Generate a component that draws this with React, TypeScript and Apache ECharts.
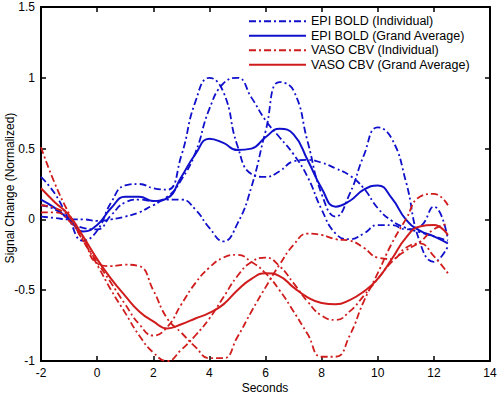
import React, { useEffect, useRef } from "react";
import * as echarts from "echarts";

const seconds = [-2, -1.5, -1, -0.5, 0, 0.5, 1, 1.5, 2, 2.5, 3, 3.5, 4, 4.5, 5, 5.5, 6, 6.5, 7, 7.5, 8, 8.5, 9, 9.5, 10, 10.5, 11, 11.5, 12, 12.5];

const boldInd1 = [0.30, 0.18, 0.00, -0.15, -0.08, 0.12, 0.24, 0.25, 0.22, 0.21, 0.45, 0.83, 1.00, 0.90, 0.52, 0.32, 0.30, 0.34, 0.41, 0.42, 0.40, 0.36, 0.31, 0.22, 0.08, -0.01, -0.06, -0.09, -0.12, -0.15];
const boldInd2 = [0.10, 0.07, 0.00, -0.06, -0.07, 0.03, 0.12, 0.14, 0.13, 0.16, 0.28, 0.47, 0.78, 0.96, 1.00, 0.86, 0.70, 0.58, 0.46, 0.30, 0.07, -0.10, -0.14, -0.10, -0.04, -0.04, -0.07, -0.05, 0.09, -0.14];
const boldInd3 = [0.02, 0.01, 0.00, 0.00, -0.01, 0.00, 0.02, 0.05, 0.10, 0.14, 0.14, 0.07, -0.06, -0.155, -0.03, 0.23, 0.62, 0.97, 0.91, 0.55, 0.18, 0.02, 0.18, 0.45, 0.65, 0.57, 0.27, -0.16, -0.30, -0.19];
const boldAvg = [0.14, 0.08, 0.00, -0.085, -0.04, 0.08, 0.16, 0.16, 0.13, 0.15, 0.30, 0.46, 0.57, 0.54, 0.49, 0.50, 0.58, 0.64, 0.60, 0.42, 0.22, 0.09, 0.13, 0.21, 0.24, 0.15, 0.00, -0.08, -0.12, -0.17];

const cbvInd1 = [0.51, 0.25, 0.04, -0.15, -0.30, -0.45, -0.60, -0.74, -0.82, -0.76, -0.60, -0.45, -0.34, -0.27, -0.25, -0.30, -0.38, -0.50, -0.65, -0.81, -0.97, -0.97, -0.82, -0.58, -0.38, -0.17, 0.00, 0.16, 0.18, 0.10];
const cbvInd2 = [0.10, 0.08, 0.02, -0.13, -0.31, -0.33, -0.32, -0.33, -0.50, -0.70, -0.80, -0.90, -0.98, -0.98, -0.83, -0.65, -0.48, -0.32, -0.18, -0.10, -0.11, -0.14, -0.15, -0.20, -0.27, -0.28, -0.20, -0.17, -0.26, -0.38];
const cbvInd3 = [0.05, 0.05, -0.01, -0.15, -0.32, -0.50, -0.66, -0.82, -0.94, -1.00, -0.92, -0.82, -0.70, -0.55, -0.40, -0.30, -0.27, -0.33, -0.45, -0.58, -0.68, -0.71, -0.65, -0.54, -0.42, -0.30, -0.22, -0.16, -0.07, -0.03];
const cbvAvg = [0.22, 0.12, 0.03, -0.12, -0.28, -0.42, -0.54, -0.65, -0.72, -0.77, -0.74, -0.70, -0.66, -0.60, -0.50, -0.42, -0.38, -0.40, -0.48, -0.55, -0.59, -0.60, -0.57, -0.51, -0.42, -0.28, -0.13, -0.05, -0.04, -0.11];

const legendNames = ["EPI BOLD (Individual)", "EPI BOLD (Grand Average)", "VASO CBV (Individual)", "VASO CBV (Grand Average)"];
const xTitle = "Seconds";
const yTitle = "Signal Change (Normalized)";

const BLUE = "#1010cc";
const RED = "#d01c1c";
const FONT = "Liberation Sans, Arial, sans-serif";
const DASHDOT = [7, 3, 2, 3];

function toPairs(ys: number[]) {
  return seconds.map((x, i) => [x, ys[i]]);
}

export default function App() {
  const ref = useRef<HTMLDivElement>(null);
  useEffect(() => {
    if (!ref.current) return;
    const chart = echarts.init(ref.current, null, { renderer: "svg" });
    const mk = (name: string, ys: number[], color: string, dashed: boolean) => ({
      name,
      type: "line",
      data: toPairs(ys),
      smooth: 0.5,
      symbol: "none",
      showSymbol: false,
      clip: true,
      lineStyle: { color, width: dashed ? 1.8 : 2, type: dashed ? DASHDOT : "solid" },
      itemStyle: { color },
    });
    const axisLine = { show: true, onZero: false, lineStyle: { color: "#000", width: 2 } };
    const axisTick = { show: true, inside: true, length: 5, lineStyle: { color: "#000", width: 1.5 } };
    const labelStyle = { color: "#000", fontSize: 12, fontFamily: FONT };
    chart.setOption({
      animation: false,
      backgroundColor: "#fff",
      grid: { left: 41, right: 10, top: 7, bottom: 34, containLabel: false, outerBoundsMode: "none" },
      legend: {
        orient: "vertical",
        left: 248,
        top: 14,
        itemWidth: 57,
        itemHeight: 8,
        itemGap: 0,
        padding: 0,
        itemStyle: { opacity: 0 },
        textStyle: { color: "#000", fontSize: 12.5, fontFamily: FONT, lineHeight: 14.5 },
        data: legendNames,
      },
      graphic: [
        {
          type: "text",
          x: 265,
          y: 388,
          style: { text: xTitle, fill: "#000", font: `12px ${FONT}`, align: "center", verticalAlign: "middle" },
        },
        {
          type: "text",
          x: 10,
          y: 188,
          rotation: Math.PI / 2,
          style: { text: yTitle, fill: "#000", font: `12px ${FONT}`, align: "center", verticalAlign: "middle" },
        },
      ],
      xAxis: [
        {
          type: "value",
          position: "bottom",
          min: -2,
          max: 14,
          interval: 2,
          axisLine,
          axisTick,
          splitLine: { show: false },
          axisLabel: { ...labelStyle, margin: 6 },
        },
        {
          type: "value",
          position: "top",
          min: -2,
          max: 14,
          interval: 2,
          axisLine,
          axisTick,
          splitLine: { show: false },
          axisLabel: { show: false },
        },
      ],
      yAxis: [
        {
          type: "value",
          position: "left",
          min: -1,
          max: 1.5,
          interval: 0.5,
          axisLine,
          axisTick,
          splitLine: { show: false },
          axisLabel: { ...labelStyle, margin: 6 },
        },
        {
          type: "value",
          position: "right",
          min: -1,
          max: 1.5,
          interval: 0.5,
          axisLine,
          axisTick,
          splitLine: { show: false },
          axisLabel: { show: false },
        },
      ],
      series: [
        mk(legendNames[0], boldInd1, BLUE, true),
        mk(legendNames[0], boldInd2, BLUE, true),
        mk(legendNames[0], boldInd3, BLUE, true),
        mk(legendNames[1], boldAvg, BLUE, false),
        mk(legendNames[2], cbvInd1, RED, true),
        mk(legendNames[2], cbvInd2, RED, true),
        mk(legendNames[2], cbvInd3, RED, true),
        mk(legendNames[3], cbvAvg, RED, false),
      ],
    });
    return () => chart.dispose();
  }, []);
  return <div ref={ref} style={{ width: 500, height: 395, position: "fixed", left: 0, top: 0 }} />;
}
